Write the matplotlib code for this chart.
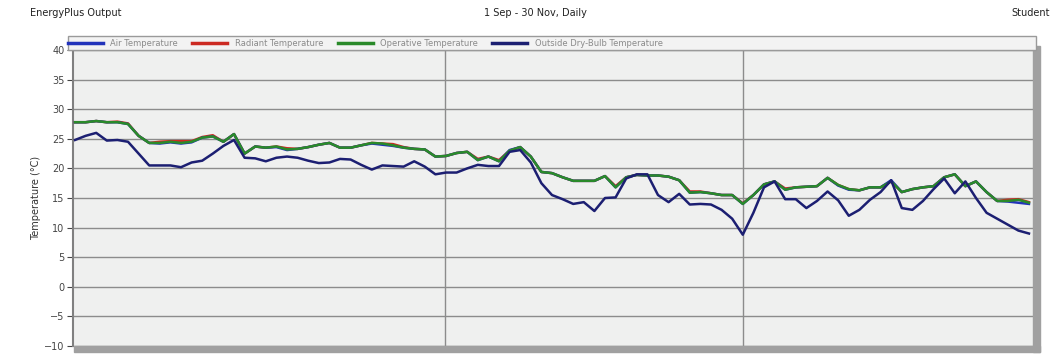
import matplotlib
matplotlib.use("Agg")
import matplotlib.pyplot as plt
from matplotlib.patches import Rectangle
from matplotlib.lines import Line2D

# daily values, 1 Sep - 30 Nov
days = list(range(91))

outside = [24.8, 25.5, 26.0, 24.7, 24.8, 24.5, 22.5, 20.5, 20.5, 20.5,
           20.2, 21.0, 21.3, 22.5, 23.8, 24.8, 21.8, 21.7, 21.2, 21.8,
           22.0, 21.8, 21.3, 20.9, 21.0, 21.6, 21.5, 20.6, 19.8, 20.5,
           20.4, 20.3, 21.2, 20.3, 19.0, 19.3, 19.3, 20.0, 20.6, 20.4,
           20.4, 22.8, 23.1, 21.0, 17.5, 15.5, 14.8, 14.0, 14.3, 12.8,
           15.0, 15.1, 18.3, 19.0, 19.0, 15.5, 14.3, 15.7, 13.9, 14.0,
           13.9, 13.0, 11.5, 8.8, 12.5, 16.8, 17.8, 14.8, 14.8, 13.3,
           14.5, 16.1, 14.6, 12.0, 13.0, 14.7, 16.0, 18.0, 13.3, 13.0,
           14.5, 16.5, 18.3, 15.8, 17.8, 15.0, 12.5, 11.5, 10.5, 9.5,
           9.0]

operative = [27.8, 27.8, 28.0, 27.8, 27.8, 27.5, 25.5, 24.3, 24.3, 24.5,
             24.3, 24.5, 25.2, 25.4, 24.5, 25.8, 22.5, 23.7, 23.5, 23.7,
             23.2, 23.3, 23.6, 24.0, 24.3, 23.5, 23.5, 23.9, 24.3, 24.2,
             23.9, 23.5, 23.3, 23.2, 22.0, 22.1, 22.6, 22.8, 21.4, 22.0,
             21.2, 23.0, 23.6, 22.0, 19.4, 19.2, 18.5, 17.9, 17.9, 17.9,
             18.7, 16.8, 18.5, 18.9, 18.8, 18.8, 18.6, 18.0, 15.9, 16.0,
             15.8, 15.5, 15.5, 14.0, 15.5, 17.3, 17.8, 16.4, 16.8, 16.9,
             17.0, 18.4, 17.2, 16.5, 16.3, 16.8, 16.8, 17.8, 16.0, 16.5,
             16.8, 17.0, 18.5, 19.0, 17.0, 17.8, 16.0, 14.5, 14.5, 14.7,
             14.2]

air = [27.8, 27.8, 28.0, 27.8, 27.8, 27.5, 25.5, 24.3, 24.2, 24.4,
       24.2, 24.4, 25.2, 25.4, 24.5, 25.8, 22.5, 23.7, 23.5, 23.6,
       23.1, 23.3, 23.6, 24.0, 24.3, 23.5, 23.5, 23.9, 24.2, 24.0,
       23.8, 23.5, 23.3, 23.2, 22.0, 22.1, 22.6, 22.8, 21.4, 22.0,
       21.2, 23.1, 23.6, 22.0, 19.4, 19.2, 18.5, 17.9, 17.9, 17.9,
       18.7, 16.8, 18.5, 18.9, 18.8, 18.8, 18.6, 18.0, 15.9, 16.0,
       15.8, 15.5, 15.5, 14.0, 15.5, 17.3, 17.8, 16.4, 16.8, 16.9,
       17.0, 18.4, 17.1, 16.4, 16.3, 16.8, 16.8, 18.0, 16.0, 16.5,
       16.8, 17.0, 18.5, 19.0, 17.0, 17.8, 16.0, 14.5, 14.4, 14.2,
       14.0]

radiant = [27.8, 27.8, 28.0, 27.8, 27.9, 27.6, 25.5, 24.3, 24.5, 24.6,
           24.6, 24.6, 25.3, 25.6, 24.5, 25.8, 22.5, 23.7, 23.5, 23.7,
           23.4, 23.3, 23.6, 24.0, 24.3, 23.5, 23.5, 23.9, 24.3, 24.2,
           24.1, 23.6, 23.3, 23.2, 22.0, 22.1, 22.6, 22.8, 21.6, 22.0,
           21.4, 23.0, 23.6, 22.0, 19.4, 19.2, 18.5, 17.9, 17.9, 17.9,
           18.7, 17.0, 18.5, 18.9, 18.8, 18.8, 18.6, 18.0, 16.1, 16.1,
           15.8, 15.5, 15.5, 14.1, 15.5, 17.3, 17.8, 16.6, 16.8, 16.9,
           17.0, 18.4, 17.2, 16.5, 16.3, 16.8, 16.8, 17.8, 16.0, 16.5,
           16.8, 17.0, 18.5, 19.0, 17.0, 17.8, 16.0, 14.5, 14.7, 14.8,
           14.3]

labels = ["Air Temperature", "Radiant Temperature",
          "Operative Temperature", "Outside Dry-Bulb Temperature"]
colors = ["#2233bb", "#cc2a22", "#2a8a2a", "#1c1f72"]

fig = plt.figure(figsize=(10.53, 3.57), dpi=100)
fig.patch.set_facecolor("white")

ax = fig.add_axes([73 / 1053, 1 - 346 / 357, 960 / 1053, 296 / 357])
ax.set_facecolor("#eff0ef")

ax.plot(days, radiant, color=colors[1], lw=1.8, zorder=3)
ax.plot(days, air, color=colors[0], lw=1.8, zorder=3)
ax.plot(days, operative, color=colors[2], lw=1.8, zorder=4)
ax.plot(days, outside, color=colors[3], lw=1.8, zorder=5)

ax.set_xlim(-0.19, 90.38)
ax.set_ylim(-10, 40)
ax.set_yticks(range(-10, 41, 5))
ax.set_xticks([])
ax.grid(axis="y", color="#8c8c8c", lw=1.0)
for xv in (34.9, 63.0):
    ax.axvline(xv, color="#8c8c8c", lw=1.0, zorder=1)
ax.set_axisbelow(True)

for side in ("top", "right"):
    ax.spines[side].set_visible(False)
ax.spines["left"].set_color("#808080")
ax.spines["left"].set_linewidth(1.5)
ax.spines["bottom"].set_visible(False)
ax.tick_params(axis="y", labelsize=7, colors="#444444", length=4,
               width=0.8, pad=2)
ax.set_ylabel("Temperature (°C)", fontsize=7, color="#333333", labelpad=2)

# shadow bars along the bottom and right of the plot area
fig.patches.append(Rectangle((74 / 1053, 1 - 352 / 357), 966 / 1053, 6 / 357,
                             transform=fig.transFigure, color="#a0a0a0",
                             zorder=0))
fig.patches.append(Rectangle((1033 / 1053, 1 - 352 / 357), 7 / 1053, 306 / 357,
                             transform=fig.transFigure, color="#a0a0a0",
                             zorder=0))

# legend strip above the plot
fig.patches.append(Rectangle((68 / 1053, 1 - 50 / 357), 968 / 1053, 14 / 357,
                             transform=fig.transFigure, facecolor="#f3f3f3",
                             edgecolor="#9a9a9a", lw=1.0, zorder=0))
handles = [Line2D([], [], color=c, lw=2.5) for c in colors]
fig.legend(handles, labels, loc="center left",
           bbox_to_anchor=(68 / 1053, 1 - 43 / 357), ncol=4, frameon=False,
           fontsize=6, labelcolor="#8a8a8a", handlelength=4.2,
           handletextpad=0.9, columnspacing=1.7, borderpad=0, borderaxespad=0)

fig.text(30 / 1053, 1 - 13 / 357, "EnergyPlus Output", fontsize=7,
         color="#222222", va="center", ha="left")
fig.text(535 / 1053, 1 - 13 / 357, "1 Sep - 30 Nov, Daily", fontsize=7,
         color="#222222", va="center", ha="center")
fig.text(1050 / 1053, 1 - 13 / 357, "Student", fontsize=7,
         color="#222222", va="center", ha="right")

fig.savefig("out.png", dpi=100)
